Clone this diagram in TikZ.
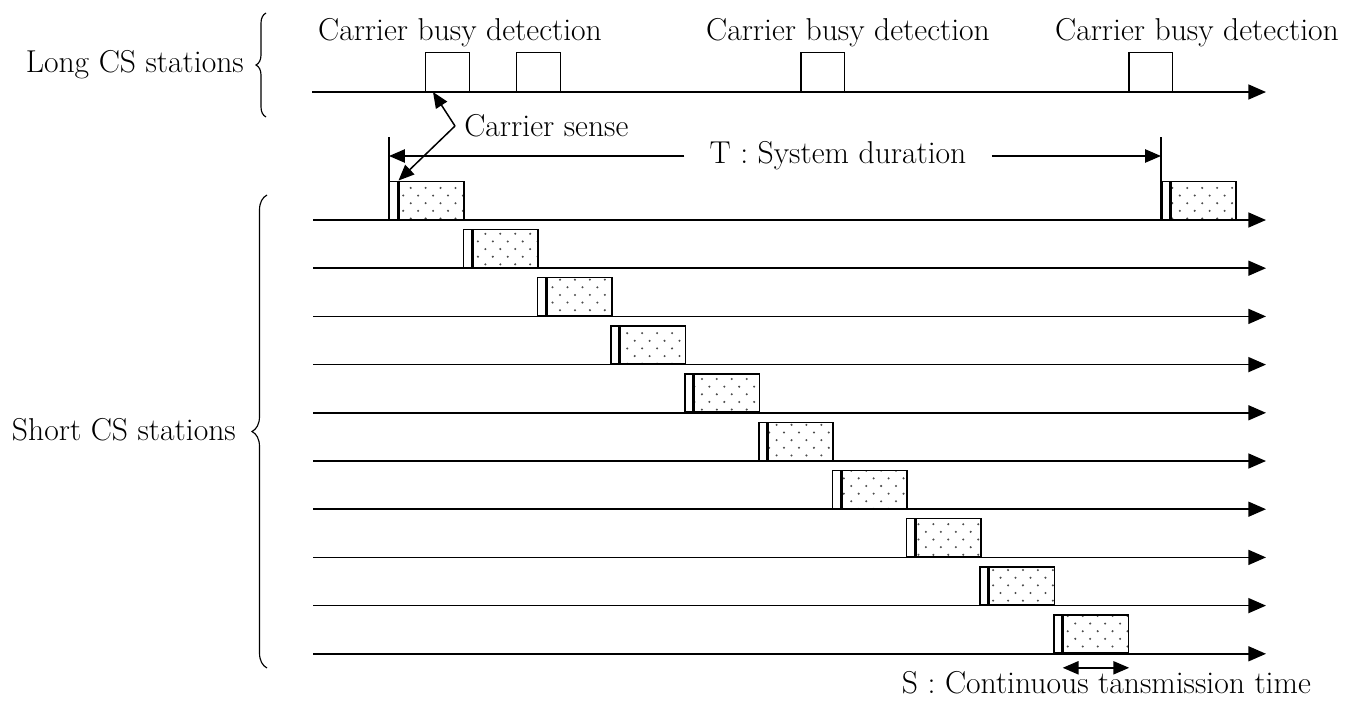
\documentclass[tikz,border=0pt]{standalone}
\usepackage{fontspec}
\usetikzlibrary{arrows.meta,patterns,decorations.pathreplacing,calc}

\pgfdeclarepatternformonly{sparsedots}{\pgfqpoint{-0.8pt}{-0.8pt}}{\pgfqpoint{5.1pt}{5.2pt}}{\pgfqpoint{8.5pt}{8.7pt}}{%
  \pgfpathcircle{\pgfqpoint{0pt}{0pt}}{0.65pt}%
  \pgfpathcircle{\pgfqpoint{4.25pt}{4.35pt}}{0.65pt}%
  \pgfusepath{fill}}

\begin{document}
\begin{tikzpicture}[x=0.02cm,y=-0.02cm,
    every node/.style={font=\fontsize{18}{21}\selectfont},
    axis/.style={line width=0.85pt,-{Triangle[length=10pt,width=8.5pt]}},
    ptr/.style={line width=0.85pt,-{Triangle[length=9pt,width=7.5pt]}},
    detbox/.style={draw,line width=0.85pt,minimum width=0.88cm,minimum height=0.78cm,inner sep=0pt,anchor=south west},
    gapbox/.style={draw,line width=0.85pt,minimum width=0.16cm,minimum height=0.76cm,inner sep=0pt,anchor=south west},
    txbox/.style={draw,line width=0.85pt,pattern=sparsedots,pattern color=black!70,minimum width=1.3cm,minimum height=0.76cm,inner sep=0pt,anchor=south west},
    stbrace/.style={decorate,decoration={brace,amplitude=#1},line width=0.65pt}]
  \useasboundingbox (0,0) rectangle (1359,700);

  \coordinate (ls) at (312,92);
  \coordinate (le) at (1266,92);
  \draw[axis] (ls) -- (le);
  \foreach \x [count=\k] in {425,516,800,1128}
    \node[detbox] (det\k) at (\x,92) {};
  \foreach \x [count=\k] in {460,848,1197}
    \node (cbd\k) at (\x,33) {Carrier busy detection};
  \node[anchor=east] (lcs) at (250,65) {Long CS stations};
  \draw[stbrace=0.2cm] (266,117) -- (266,13);

  \foreach \i in {0,...,9}{
    \pgfmathsetmacro\ly{220+48.2*\i}
    \pgfmathsetmacro\bx{389+73.8*\i}
    \coordinate (ss\i) at (313,\ly);
    \coordinate (se\i) at (1266,\ly);
    \draw[axis] (ss\i) -- (se\i);
    \node[gapbox] (g\i) at (\bx,\ly) {};
    \node[txbox] (s\i) at (g\i.south east) {};
  }
  \node[gapbox] (gT) at (1161,220) {};
  \node[txbox] (sT) at (gT.south east) {};
  \node[anchor=east] (scs) at (242,430) {Short CS stations};
  \draw[stbrace=0.3cm] (267,668) -- (267,195);

  \coordinate (tl) at (389,137);
  \coordinate (tr) at (1161,137);
  \draw[line width=0.85pt] (tl) -- (g0.south west);
  \draw[line width=0.85pt] (tr) -- (gT.south west);
  \node[inner xsep=0.5cm] (tdur) at (838,156) {T : System duration};
  \draw[ptr] (tdur.west) -- (tdur.west -| tl);
  \draw[ptr] (tdur.east) -- (tdur.east -| tr);

  \node[anchor=west,inner xsep=0.18cm,inner ysep=1pt] (cs) at (455,126) {Carrier sense};
  \draw[ptr] (cs.west) -- ([xshift=0.16cm]det1.south west);
  \draw[ptr] (cs.west) -- (g0.north east);

  \draw[line width=0.85pt,{Triangle[length=9pt,width=7.5pt]}-{Triangle[length=9pt,width=7.5pt]}]
    ([yshift=-0.28cm]s9.south west) -- ([yshift=-0.28cm]s9.south east);
  \node[anchor=east,inner sep=1pt] (stime) at (1313,683) {S : Continuous tansmission time};
\end{tikzpicture}
\end{document}
